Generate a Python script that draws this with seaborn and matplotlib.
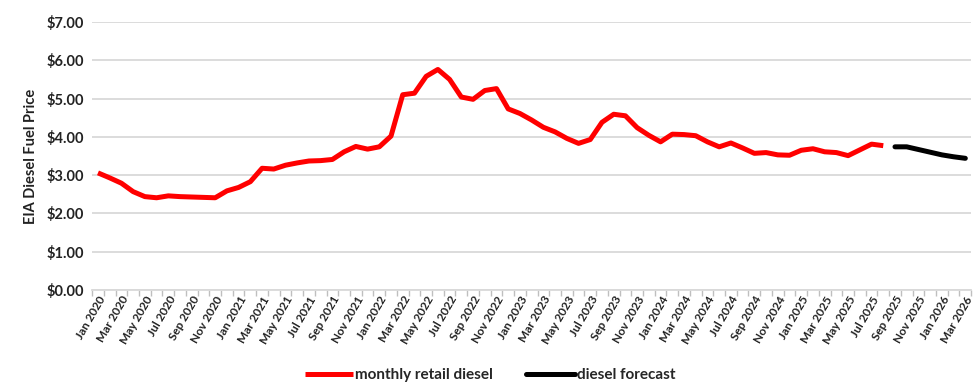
import numpy as np
import pandas as pd
import matplotlib
matplotlib.use("Agg")
import matplotlib.pyplot as plt
import matplotlib.patheffects as pe
import seaborn as sns

# ---- data ----
months = pd.date_range("2020-01-01", "2026-03-01", freq="MS").strftime("%b %Y").tolist()

retail = [3.06, 2.93, 2.79, 2.57, 2.44, 2.41, 2.46, 2.44, 2.43, 2.42, 2.41, 2.59,
          2.68, 2.83, 3.18, 3.16, 3.26, 3.32, 3.37, 3.38, 3.41, 3.61, 3.75, 3.68,
          3.74, 4.02, 5.10, 5.14, 5.58, 5.76, 5.50, 5.04, 4.98, 5.21, 5.26, 4.73,
          4.61, 4.44, 4.25, 4.13, 3.96, 3.83, 3.93, 4.38, 4.59, 4.55, 4.24, 4.04,
          3.87, 4.07, 4.06, 4.03, 3.87, 3.74, 3.84, 3.71, 3.57, 3.59, 3.53, 3.52,
          3.65, 3.69, 3.61, 3.59, 3.51, 3.66, 3.81, 3.77]
forecast = [3.74, 3.74, 3.67, 3.60, 3.53, 3.48, 3.44]

df_retail = pd.DataFrame({"idx": np.arange(len(retail)), "price": retail})
df_fc = pd.DataFrame({"idx": np.arange(len(retail), len(retail) + len(forecast)), "price": forecast})

# ---- style ----
sns.set_style("white")
plt.rcParams["font.family"] = ["Lato", "DejaVu Sans"]
plt.rcParams["font.weight"] = "bold"

fig, ax = plt.subplots(figsize=(9.8, 3.92), dpi=100)
fig.subplots_adjust(left=0.094, right=0.991, top=0.944, bottom=0.26)

shadow = [pe.SimpleLineShadow(offset=(1, -1.5), shadow_color="#888888", alpha=0.35), pe.Normal()]
sns.lineplot(data=df_retail, x="idx", y="price", ax=ax, color="#ff0000", linewidth=3.6,
             label="monthly retail diesel", path_effects=shadow, solid_capstyle="butt",
             solid_joinstyle="round")
sns.lineplot(data=df_fc, x="idx", y="price", ax=ax, color="#000000", linewidth=3.6,
             label="diesel forecast", path_effects=shadow, solid_capstyle="round",
             solid_joinstyle="round")

ax.set_ylim(0, 7)
ax.set_yticks(np.arange(0, 8, 1))
ax.set_yticklabels([f"${v:.2f}" for v in range(8)], fontsize=10.5, fontweight="bold", color="#222222")
ax.yaxis.grid(True, color="#d9d9d9", linewidth=1.3)
ax.set_axisbelow(True)

ax.set_xlim(-0.5, len(months) - 0.5)
ax.set_xticks(np.arange(0, len(months), 2))
ax.set_xticklabels(months[::2], rotation=60, ha="right", rotation_mode="anchor",
                   fontsize=8.5, fontweight="bold", color="#222222")
ax.set_xticks(np.arange(-0.5, len(months), 1), minor=True)
ax.tick_params(axis="x", which="both", bottom=True, length=4, color="#bfbfbf", width=1, pad=3)
ax.tick_params(axis="x", which="major", length=0)
ax.tick_params(axis="y", length=0, pad=6)

for s in ["top", "right", "left"]:
    ax.spines[s].set_visible(False)
ax.spines["bottom"].set_color("#d9d9d9")
ax.spines["bottom"].set_linewidth(1.3)

ax.set_xlabel("")
ax.set_ylabel("EIA Diesel Fuel Price", fontsize=10.5, fontweight="bold", color="#222222", labelpad=6)

handles, labels = ax.get_legend_handles_labels()
ax.get_legend().remove()
for h in handles:
    h.set_path_effects([])
fig.legend(handles, labels, loc="lower center", bbox_to_anchor=(0.5, -0.01), ncol=2, frameon=False,
           prop={"size": 11, "weight": "bold"}, handlelength=3.2, columnspacing=2.2, handletextpad=0.1)

fig.savefig("out.png", dpi=100)
